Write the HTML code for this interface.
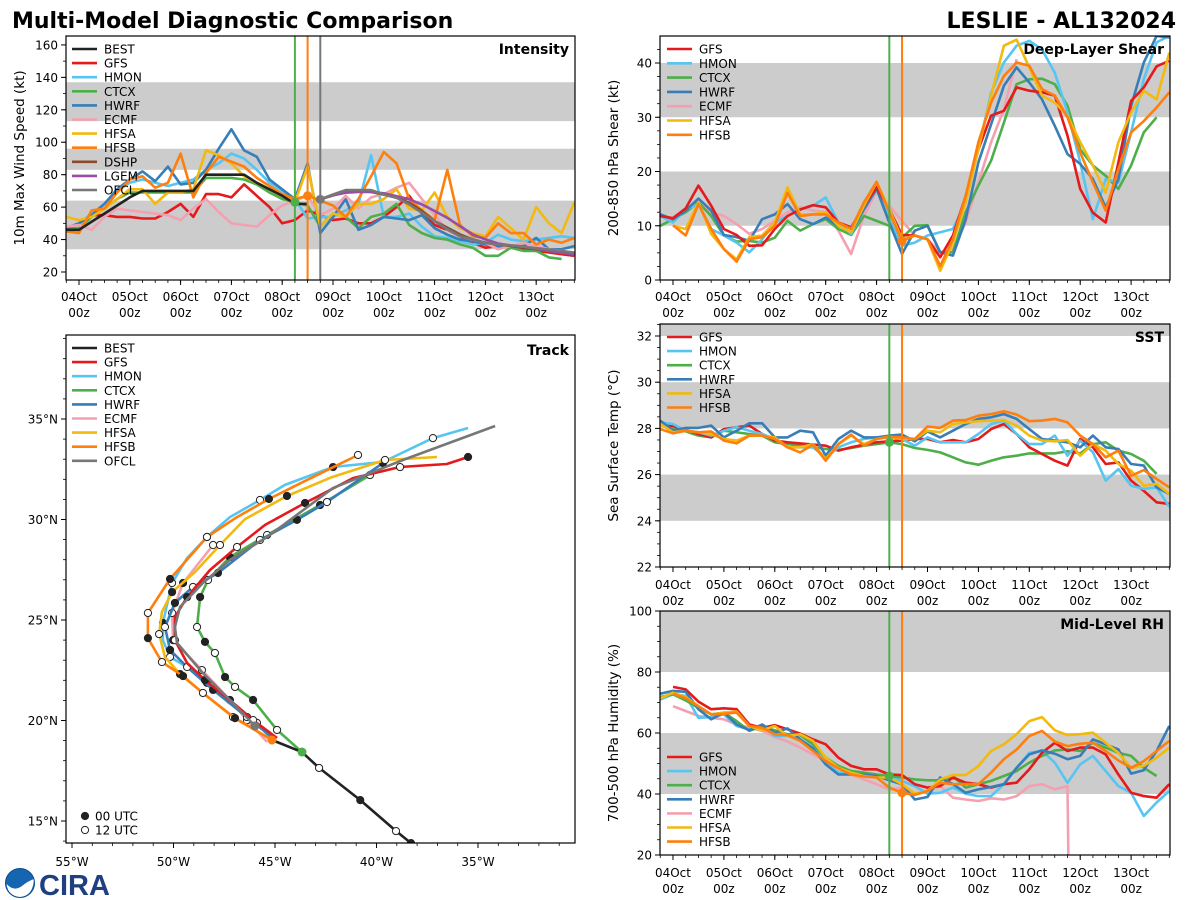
<!DOCTYPE html>
<html><head><meta charset="utf-8">
<style>
html,body{margin:0;padding:0;background:#fff;width:1200px;height:900px;overflow:hidden;}
svg{display:block;font-family:"DejaVu Sans","Liberation Sans",sans-serif;}
</style></head>
<body>
<svg id="chart" xmlns="http://www.w3.org/2000/svg" width="1200" height="900" viewBox="0 0 1200 900">
<rect x="0" y="0" width="1200" height="900" fill="#fff"/>
<text x="12" y="28" font-size="22" font-weight="bold" fill="#000">Multi-Model Diagnostic Comparison</text>
<text x="1176" y="28" font-size="22" font-weight="bold" fill="#000" text-anchor="end">LESLIE - AL132024</text>
<g>
<circle cx="20" cy="883" r="14.5" fill="#1565b0"/>
<path d="M6.5,884 Q14,892 22,886 Q28,881 34,879 Q33,896 20,897 Q8,896 6.5,884 Z" fill="#fff"/>
<circle cx="20" cy="883" r="14.5" fill="none" stroke="#0d4f91" stroke-width="1"/>
</g>
<text x="39" y="895" font-size="29" font-weight="bold" font-family="Liberation Sans, sans-serif" fill="#1f3f80">CIRA</text>
</svg>
<script>
const svg = document.getElementById('chart');
const NS = 'http://www.w3.org/2000/svg';

// ---------- shared categories ----------
const times = [-0.25,0,0.25,0.5,0.75,1,1.25,1.5,1.75,2,2.25,2.5,2.75,3,3.25,3.5,3.75,4,4.25,4.5,4.75,5,5.25,5.5,5.75,6,6.25,6.5,6.75,7,7.25,7.5,7.75,8,8.25,8.5,8.75,9,9.25,9.5,9.75];
const dayLabels = ['04Oct','05Oct','06Oct','07Oct','08Oct','09Oct','10Oct','11Oct','12Oct','13Oct'];
const markerTimes = [4.25, 4.5, 4.75];

// ---------- intensity (kt) ----------
const intBEST = [46,46,51,56,61,66,70,70,70,70,70,80,80,80,80,75,71,67,62,62,null,null,null,null,null,null,null,null,null,null,null,null,null,null,null,null,null,null,null,null,null];
const intGFS  = [47,50,55,55,54,54,53,53,57,62,54,68,68,66,74,67,60,50,52,58,55,52,53,50,50,54,60,67,56,49,46,42,38,35,36,35,34,33,32,31,30];
const intHMON = [47,50,56,62,70,75,77,75,73,75,77,83,87,93,90,83,75,70,65,53,54,54,58,62,92,54,54,56,48,42,41,39,37,38,43,40,39,40,41,42,41];
const intCTCX = [47,47,54,59,65,69,69,69,69,69,69,78,78,78,77,74,69,65,63,61,48,56,54,47,54,56,62,49,44,41,40,37,35,30,30,35,33,33,29,28,null];
const intHWRF = [47,50,55,62,71,77,82,76,85,74,75,83,96,108,95,91,77,71,65,87,44,54,65,46,49,54,53,52,55,47,43,40,39,37,36,36,36,41,34,34,36];
const intECMF = [48,49,46,54,59,58,57,56,55,52,59,65,57,50,49,48,55,61,64,67,55,59,67,59,66,68,72,75,65,55,46,42,40,38,34,36,38,36,34,33,32];
const intHFSA = [54,52,54,59,65,71,71,62,69,69,71,95,92,87,79,75,71,67,63,85,48,56,54,62,62,65,71,59,58,69,54,47,44,42,54,47,40,60,50,44,63];
const intHFSB = [45,44,58,59,69,77,79,72,75,93,66,81,91,88,85,78,73,68,65,67,64,61,54,65,79,94,87,65,58,52,83,49,42,41,50,44,44,37,40,38,41];
const intDSHP = [null,null,null,null,null,null,null,null,null,null,null,null,null,null,null,null,null,null,null,null,64.8,67.2,69.9,69.9,69.3,67.8,65.8,62.7,57.6,51.4,47.3,43.2,40.1,38,37,36,35,34,33,32,31];
const intLGEM = [null,null,null,null,null,null,null,null,null,null,null,null,null,null,null,null,null,null,null,null,64.8,67.2,68.9,69.3,69.3,68.5,66.8,64.8,61.7,57.6,53.4,48.3,43.2,40.1,37.6,36.4,35.6,34.3,32.9,31.9,30.8];
const intOFCL = [null,null,null,null,null,null,null,null,null,null,null,null,null,null,null,null,null,null,null,null,64.8,67.8,70.5,70.5,70.5,67.8,65.8,61.7,56.5,51.4,46.3,42.1,40.1,38,37,36.4,35.6,34.7,33.9,32.9,31.9];
const intTicks = [20,40,60,80,100,120,140,160];

// ---------- shear (kt) ----------
const shrGFS  = [11.8,11.4,13.2,17.4,13.7,9.4,8.3,6.3,6.4,9.4,11.8,13,13.8,13.4,10.6,9.7,13.7,17.1,13,8.3,8.2,7.5,4.2,8.2,15.5,24.1,30.3,31.2,35.5,34.9,34.6,34,26.6,16.8,12.4,10.6,21.7,33,35.5,39.4,40.4];
const shrHMON = [11.8,10.6,13,14,9.4,8.2,6.9,5.1,7.5,10.6,11.8,13,13.7,15.2,10.6,8.5,13,16.8,11.2,6.3,6.9,8.2,8.8,9.4,14.3,24.1,34.5,40.1,43.2,44.1,42.5,38.2,30.9,21.7,11.2,18.6,18,27.2,37,43.8,45];
const shrCTCX = [10,11.2,12.5,14.3,11.8,8.2,7.1,7.2,6.9,7.8,10.9,9.1,10.3,11.2,9.4,8.3,11.8,10.9,10,7.8,10,10.1,5.1,5.1,12.5,17.4,22,29,36.1,37,37.1,36.1,32.1,24.1,21.1,19.2,16.8,21.1,27.2,30,null];
const shrHWRF = [12.1,11.2,12.8,15,12.8,8.3,7.9,7.2,11.2,12.1,14,11.2,10.3,11.5,10,8.8,13,16.8,10.6,4.8,9.1,10,5.1,4.5,11.2,21.7,28.7,35.8,39.2,36.4,33.3,28.4,23.2,21.4,18.6,13.4,18.6,32.1,40.1,45,44.7];
const shrECMF = [null,11.5,13,14,12.5,11.8,10.3,8.5,9.4,10.9,12.5,13.4,12.8,12.5,9.1,4.8,11.8,16.4,13.7,10.9,8.2,7.5,5.1,5.7,10.6,18,25.4,31.5,40.7,null,null,null,null,null,null,null,null,null,null,null,null];
const shrHFSA = [null,10,9.4,14.3,8.5,5.7,3.8,7.9,8.2,10.6,17.1,12.1,12.1,12.5,10,8.8,13.7,18,13,7.5,8.2,7.5,1.7,6.9,14.3,24.1,34,43.2,44.3,39.2,34,32.7,30.3,25.4,21.1,16.1,25.4,30.9,34.9,33.3,41.9];
const shrHFSB = [null,10.1,8.2,14,9.4,5.7,3.4,7.5,7.9,10,16.1,11.8,12.1,12.1,10.6,9.4,14.3,18.1,12.5,7.2,8.2,7.5,2.6,7.5,15.5,25.4,32.7,37.6,40.1,39.5,35.2,34,30,23.5,18,12.8,20.4,27.2,29.3,31.8,34.6];
const shrTicks = [0,10,20,30,40];

// ---------- SST (C) ----------
const sstGFS  = [28.19,28.1,27.93,27.76,27.61,27.97,28.05,28.12,27.76,27.47,27.4,27.35,27.3,27.25,27.04,27.18,27.3,27.4,27.44,27.47,27.54,27.54,27.4,27.5,27.4,27.54,27.97,28.19,27.76,27.18,26.89,26.6,26.39,27.54,27.18,26.46,26.53,25.74,25.3,24.8,24.73];
const sstHMON = [28.26,28.19,27.9,27.83,27.69,27.9,28.05,27.9,27.76,27.54,27.18,27.18,27.18,26.75,27.18,27.4,27.54,27.61,27.61,27.54,27.25,27.61,27.4,27.4,27.4,27.76,28.19,28.34,27.76,27.32,27.32,27.69,26.82,27.47,26.97,25.74,26.24,25.52,25.38,25.45,24.6];
const sstCTCX = [28.19,27.97,27.87,27.69,27.61,27.9,27.83,27.76,27.69,27.4,27.32,27.25,27.18,27.11,27.07,27.15,27.25,27.32,27.4,27.32,27.15,27.07,26.96,26.75,26.53,26.43,26.6,26.75,26.82,26.92,26.92,26.92,27.01,26.92,27.32,27.4,27.04,26.89,26.6,26.03,null];
const sstHWRF = [28.34,27.9,28.02,28.02,28.12,27.61,27.9,28.22,28.22,27.61,27.61,27.9,27.83,26.82,27.54,27.9,27.61,27.61,27.69,27.73,27.44,27.87,27.61,27.9,28.19,28.41,28.48,28.62,28.41,27.97,27.54,27.47,27.4,27.18,27.69,27.18,27.11,26.46,26.39,25.45,25.16];
const sstHFSA = [28.19,27.83,27.9,27.83,27.76,27.54,27.47,27.69,27.69,27.61,27.18,27.18,27.32,26.68,27.32,27.69,27.32,27.54,27.64,27.54,27.54,27.9,27.83,28.19,28.26,28.31,28.34,28.36,28.12,27.69,27.47,27.44,27.5,26.82,27.32,27.04,26.46,26.17,25.52,25.6,25.16];
const sstHFSB = [27.97,27.79,27.9,27.83,27.87,27.47,27.35,27.69,27.69,27.54,27.18,26.96,27.3,26.6,27.32,27.73,27.25,27.54,27.64,27.61,27.54,28.08,28.02,28.34,28.36,28.55,28.62,28.74,28.6,28.31,28.34,28.41,28.26,27.69,27.32,26.75,27.04,25.95,26.2,25.81,25.45];
const sstTicks = [22,24,26,28,30,32];

// ---------- mid-level RH (%) ----------
const rhGFS  = [null,75.1,74.3,70.3,67.8,68.1,67.8,62.8,61.7,62.6,61.2,59.8,57.9,56.3,51.9,49.2,48.1,48.1,46.4,46.2,43.2,42.1,42.6,45.4,43.7,43.2,42.1,43.2,43.7,48.1,53.5,56.8,54.1,55.2,55.2,53,46.4,40.4,39.3,38.8,43.2];
const rhHMON = [71,72.7,72.2,65,65.2,66.1,62.3,61.2,62.3,59,59,57.9,55.2,50.3,47,46.7,46.2,45.9,45.9,44.3,42.6,40.1,40.4,42.1,40.1,39.3,39.3,43.2,48.6,53.5,54.1,50.3,43.7,49.7,52.5,47.5,42.6,40.4,32.8,37.2,41];
const rhCTCX = [71.8,72.7,70.7,68.3,66.1,66.7,63.9,60.7,62.3,60.9,59.6,59.3,56.3,51.9,49.2,47.5,47,46.4,45.9,45.4,44.8,44.5,44.5,45.9,42.1,43.2,44.3,45.9,47.5,50.3,52.5,54.3,54.6,54.1,56.8,55.2,53.5,52.5,48.6,45.9,null];
const rhHWRF = [72.9,73.8,73.5,67.8,64.5,66.7,62.8,60.9,62.8,60.1,61.5,57.9,55,49.7,46.4,46.4,46.4,45.9,44.5,43.2,38.2,39,45.4,43.2,40.4,41.5,42.3,43.2,48.6,53,54.3,53.2,51.4,52.5,57.9,56.3,54.6,46.7,47.8,54.1,62.3];
const rhECMF = [null,68.8,67.2,65.6,65,64.5,62.8,61.7,60.7,58.7,57.2,55.2,53,50.8,48.6,46.4,44.8,43.2,41.5,42.1,39.9,41,42.6,38.8,38.2,37.7,38.6,38.2,39.3,42.6,43.2,41.5,42.6,-300,null,null,null,null,null,null,null];
const rhHFSA = [71.4,73.2,71.8,68.8,66.1,66.7,67,62.3,60.9,62.3,59,59.6,57.4,51.9,48.6,47,45.9,45.4,45.4,43.2,40.1,41,44.8,46.2,46.2,49.2,54.1,56.3,59.6,63.9,65.2,60.9,59.3,59.6,60.1,56.8,53.5,48.6,49.2,51.9,55.2];
const rhHFSB = [null,72.9,71.4,68.8,66.1,66.3,66.7,62.3,61.7,59.6,59.3,57.4,54.1,50.8,48.4,46.4,45.7,45.4,42.1,40.4,39.7,41,43.7,43.2,43.2,43.2,47,51.4,54.6,59,60.7,57.2,55.7,56.5,56.8,54.1,51,48.6,50.8,54.1,57.4];
const rhTicks = [20,40,60,80,100];

// ---------- track (deg) ----------
const trkBESTlon = [-37.6,-38.3,-39.04,-40.8,-42.83,-43.67,-45.15];
const trkBESTlat = [13.3,13.9,14.5,16.04,17.64,18.43,19.03];
const trkGFSlon  = [-44.9,-46.08,-47.07,-48.45,-49.33,-49.93,-49.93,-49.33,-48.2,-46.87,-45.49,-43.52,-41.16,-38.84,-36.53,-35.49];
const trkGFSlat  = [19.13,20.02,20.87,22.01,22.86,24.0,25.15,26.14,27.49,28.63,29.73,30.82,32.06,32.61,32.76,33.11];
const trkHMONlon = [-45.15,-45.89,-47.22,-48.35,-49.33,-50.17,-50.52,-50.52,-50.32,-50.07,-49.33,-48.35,-47.22,-45.74,-44.51,-42.14,-39.68,-37.22,-35.49];
const trkHMONlat = [19.03,19.88,21.02,21.87,22.66,23.16,24.0,24.85,25.75,26.84,28.08,29.13,30.12,30.97,31.72,32.61,32.86,34.05,34.55];
const trkCTCXlon = [-43.67,-44.9,-46.08,-46.97,-47.46,-47.96,-48.45,-48.84,-48.69,-48.3,-47.22,-45.39,-42.78,-40.32];
const trkCTCXlat = [18.43,19.53,21.02,21.67,22.16,23.36,23.91,24.65,26.14,26.99,28.13,29.23,30.72,32.21];
const trkHWRFlon = [-45.1,-46.38,-48.05,-49.33,-50.17,-50.42,-49.93,-49.04,-47.81,-45.74,-43.92,-42.44,-39.68];
const trkHWRFlat = [19.13,20.17,21.52,22.66,23.51,24.65,25.85,26.64,27.34,28.98,29.98,30.87,32.81];
const trkECMFlon = [-45.39,-46.38,-47.22,-48.6,-50.02,-50.07,-49.53,-48.05];
const trkECMFlat = [18.93,20.02,21.02,22.51,24.0,25.35,26.84,28.73];
const trkHFSAlon = [-45.15,-47.07,-48.55,-49.68,-50.42,-50.71,-50.57,-50.07,-48.94,-47.71,-46.48,-44.41,-42.19,-39.58,-37.02];
const trkHFSAlat = [19.03,20.17,21.37,22.31,23.16,24.3,25.4,26.39,27.39,28.73,30.02,31.17,32.11,32.96,33.11];
const trkHFSBlon = [-45.15,-46.97,-48.55,-49.53,-50.57,-51.26,-51.26,-50.17,-48.35,-46.87,-45.3,-43.42,-40.91];
const trkHFSBlat = [19.03,20.12,21.37,22.21,22.91,24.1,25.35,27.04,29.13,30.12,31.02,31.97,33.21];
const trkOFCLlon = [-45.99,-47.22,-48.55,-49.83,-49.93,-49.68,-48.55,-47.22,-45.39,-42.14,-38.7,-34.16];
const trkOFCLlat = [19.73,21.02,22.36,23.86,24.65,25.65,26.84,27.99,29.13,31.57,32.96,34.65];
const lonTicks = [-55,-50,-45,-40,-35];
const latTicks = [15,20,25,30,35];

const C = {BEST:'#222222',GFS:'#e41a1c',HMON:'#56c5f2',CTCX:'#4daf4a',HWRF:'#377eb8',ECMF:'#f4a0b0',HFSA:'#f2b90f',HFSB:'#ff7f0e',DSHP:'#8c4a2a',LGEM:'#984ea3',OFCL:'#777777'};

function el(tag, attrs, parent){
  const e = document.createElementNS(NS, tag);
  for (const k in attrs) e.setAttribute(k, attrs[k]);
  (parent || svg).appendChild(e);
  return e;
}
function txt(str, attrs, parent){ const t = el('text', attrs, parent); t.textContent = str; return t; }

let clipId = 0;
function makePanel(p){
  const g = el('g', {});
  
  
  const X = t => p.x0 + (t - p.tmin) / (p.tmax - p.tmin) * (p.x1 - p.x0);
  const Y = v => p.y1 - (v - p.vmin) / (p.vmax - p.vmin) * (p.y1 - p.y0);
  const id = 'clip' + (clipId++);
  const cp = el('clipPath', {id: id}, g);
  el('rect', {x: p.x0, y: p.y0, width: p.x1 - p.x0, height: p.y1 - p.y0}, cp);
  const inner = el('g', {'clip-path': 'url(#' + id + ')'}, g);
  return {g, inner, X, Y, p};
}

function bands(P, list){
  list.forEach(b => {
    const r = el('rect', {x: P.p.x0, width: P.p.x1 - P.p.x0, y: P.Y(b[1]), height: P.Y(b[0]) - P.Y(b[1]), fill: '#cccccc'}, P.inner);
    
    
  });
}

function series(P, vals, color, name, xs){
  let d = '', pen = false;
  vals.forEach((v, i) => {
    if (v === null) { pen = false; return; }
    const x = P.X(xs ? xs[i] : times[i]), y = P.Y(v);
    d += (pen ? 'L' : 'M') + x.toFixed(1) + ',' + y.toFixed(1);
    pen = true;
  });
  const path = el('path', {d: d, fill: 'none', stroke: color, 'stroke-width': 2.6, 'stroke-linejoin': 'round'}, P.inner);
  
  
  return path;
}

function vline(P, t, color){
  const l = el('line', {x1: P.X(t), x2: P.X(t), y1: P.p.y0, y2: P.p.y1, stroke: color, 'stroke-width': 2}, P.inner);
  
  
}

function dot(P, t, vals, color){
  const i = times.indexOf(t);
  const v = vals[i];
  if (v === null || v === undefined) return;
  const c = el('circle', {cx: P.X(t), cy: P.Y(v), r: 4.5, fill: color}, P.inner);
  
  
}

function frame(P, yTicks, minorStep, ylabel, title, labelRowY){
  const p = P.p, g = P.g;
  for (let d = 0; d <= 9; d++) {
    const x = P.X(d);
    el('line', {x1: x, x2: x, y1: p.y1, y2: p.y1 + 5, stroke: '#000', 'stroke-width': 1}, g);
    const a = txt(dayLabels[d], {x: x, y: labelRowY, 'font-size': 12, 'text-anchor': 'middle'}, g);
    
    
    const b = txt('00z', {x: x, y: labelRowY + 16, 'font-size': 12, 'text-anchor': 'middle'}, g);
    
    
  }
  for (let t = -0.25; t <= 9.76; t += 0.25) {
    const x = P.X(t);
    el('line', {x1: x, x2: x, y1: p.y1, y2: p.y1 + 3, stroke: '#000', 'stroke-width': 0.8}, g);
  }
  for (let v = Math.ceil(p.vmin / minorStep) * minorStep; v <= p.vmax; v += minorStep) {
    el('line', {x1: p.x0 - 3, x2: p.x0, y1: P.Y(v), y2: P.Y(v), stroke: '#000', 'stroke-width': 0.8}, g);
  }
  yTicks.forEach(v => {
    el('line', {x1: p.x0 - 5, x2: p.x0, y1: P.Y(v), y2: P.Y(v), stroke: '#000', 'stroke-width': 1}, g);
    const t = txt(String(v), {x: p.x0 - 8, y: P.Y(v) + 4.5, 'font-size': 12, 'text-anchor': 'end'}, g);
    
    
  });
  el('rect', {x: p.x0, y: p.y0, width: p.x1 - p.x0, height: p.y1 - p.y0, fill: 'none', stroke: '#000', 'stroke-width': 1.2}, g);
  const cy = (p.y0 + p.y1) / 2, lx = p.ylabelX;
  const yl = txt(ylabel, {x: lx, y: cy, 'font-size': 13.5, 'text-anchor': 'middle', transform: 'rotate(-90 ' + lx + ' ' + cy + ')'}, g);
  
  
  const tt = txt(title, {x: p.x1 - 6, y: p.y0 + 18, 'font-size': 14, 'font-weight': 'bold', 'text-anchor': 'end'}, g);
  
  
}

function legend(P, names, x, y, step){
  names.forEach((n, i) => {
    const yy = y + i * step;
    const l = el('line', {x1: x, x2: x + 25, y1: yy, y2: yy, stroke: C[n], 'stroke-width': 2.6}, P.g);
    
    
    const t = txt(n, {x: x + 32, y: yy + 4.5, 'font-size': 12}, P.g);
    
    
  });
}

// ===== Intensity panel =====
const PI = makePanel({name: 'intensity-panel', x0: 66, x1: 575, y0: 36, y1: 280, tmin: -0.256, tmax: 9.764, vmin: 15.07, vmax: 165.5, ylabelX: 24});
bands(PI, [[34, 64], [83, 96], [113, 137]]);
series(PI, intGFS, C.GFS, 'intensity-gfs');
series(PI, intHMON, C.HMON, 'intensity-hmon');
series(PI, intCTCX, C.CTCX, 'intensity-ctcx');
series(PI, intHWRF, C.HWRF, 'intensity-hwrf');
series(PI, intECMF, C.ECMF, 'intensity-ecmf');
series(PI, intHFSA, C.HFSA, 'intensity-hfsa');
series(PI, intHFSB, C.HFSB, 'intensity-hfsb');
series(PI, intBEST, C.BEST, 'intensity-best');
series(PI, intDSHP, C.DSHP, 'intensity-dshp');
series(PI, intLGEM, C.LGEM, 'intensity-lgem');
series(PI, intOFCL, C.OFCL, 'intensity-ofcl');
vline(PI, markerTimes[0], C.CTCX);
vline(PI, markerTimes[1], C.HFSB);
vline(PI, markerTimes[2], C.OFCL);
dot(PI, markerTimes[0], intCTCX, C.CTCX);
dot(PI, markerTimes[1], intHFSB, C.HFSB);
dot(PI, markerTimes[2], intOFCL, C.OFCL);
frame(PI, intTicks, 10, '10m Max Wind Speed (kt)', 'Intensity', 301);
legend(PI, ['BEST','GFS','HMON','CTCX','HWRF','ECMF','HFSA','HFSB','DSHP','LGEM','OFCL'], 72, 49, 14.1);

// ===== Shear panel =====
const PS = makePanel({name: 'shear-panel', x0: 660, x1: 1170, y0: 36, y1: 280, tmin: -0.255, tmax: 9.764, vmin: 0, vmax: 44.98, ylabelX: 618});
bands(PS, [[10, 20], [30, 40]]);
series(PS, shrECMF, C.ECMF, 'shear-ecmf');
series(PS, shrCTCX, C.CTCX, 'shear-ctcx');
series(PS, shrHMON, C.HMON, 'shear-hmon');
series(PS, shrHWRF, C.HWRF, 'shear-hwrf');
series(PS, shrGFS, C.GFS, 'shear-gfs');
series(PS, shrHFSA, C.HFSA, 'shear-hfsa');
series(PS, shrHFSB, C.HFSB, 'shear-hfsb');
vline(PS, markerTimes[0], C.CTCX);
vline(PS, markerTimes[1], C.HFSB);
dot(PS, markerTimes[1], shrHFSB, C.HFSB);
frame(PS, shrTicks, 2.5, '200-850 hPa Shear (kt)', 'Deep-Layer Shear', 301);
legend(PS, ['GFS','HMON','CTCX','HWRF','ECMF','HFSA','HFSB'], 667, 49, 14.3);

// ===== SST panel =====
const PT = makePanel({name: 'sst-panel', x0: 660, x1: 1170, y0: 324, y1: 567, tmin: -0.255, tmax: 9.764, vmin: 22, vmax: 32.52, ylabelX: 618});
bands(PT, [[24, 26], [28, 30], [32, 34]]);
series(PT, sstCTCX, C.CTCX, 'sst-ctcx');
series(PT, sstGFS, C.GFS, 'sst-gfs');
series(PT, sstHMON, C.HMON, 'sst-hmon');
series(PT, sstHWRF, C.HWRF, 'sst-hwrf');
series(PT, sstHFSA, C.HFSA, 'sst-hfsa');
series(PT, sstHFSB, C.HFSB, 'sst-hfsb');
vline(PT, markerTimes[0], C.CTCX);
vline(PT, markerTimes[1], C.HFSB);
dot(PT, markerTimes[0], sstCTCX, C.CTCX);
frame(PT, sstTicks, 0.5, 'Sea Surface Temp (°C)', 'SST', 589);
legend(PT, ['GFS','HMON','CTCX','HWRF','HFSA','HFSB'], 667, 337, 14.1);

// ===== RH panel =====
const PR = makePanel({name: 'rh-panel', x0: 660, x1: 1170, y0: 611, y1: 855, tmin: -0.255, tmax: 9.764, vmin: 20, vmax: 100, ylabelX: 618});
bands(PR, [[40, 60], [80, 100]]);
series(PR, rhECMF, C.ECMF, 'rh-ecmf');
series(PR, rhHMON, C.HMON, 'rh-hmon');
series(PR, rhCTCX, C.CTCX, 'rh-ctcx');
series(PR, rhGFS, C.GFS, 'rh-gfs');
series(PR, rhHWRF, C.HWRF, 'rh-hwrf');
series(PR, rhHFSA, C.HFSA, 'rh-hfsa');
series(PR, rhHFSB, C.HFSB, 'rh-hfsb');
vline(PR, markerTimes[0], C.CTCX);
vline(PR, markerTimes[1], C.HFSB);
dot(PR, markerTimes[0], rhCTCX, C.CTCX);
dot(PR, markerTimes[1], rhHFSB, C.HFSB);
frame(PR, rhTicks, 5, '700-500 hPa Humidity (%)', 'Mid-Level RH', 877);
legend(PR, ['GFS','HMON','CTCX','HWRF','ECMF','HFSA','HFSB'], 667, 757, 14.1);

// ===== Track panel =====
const TK = {x0: 66, x1: 575, y0: 335, y1: 843};
const LX = lon => 72 + (lon + 55) * 20.3;
const LY = lat => 821 - (lat - 15) * 20.1;
const tg = el('g', {});


const tcp = el('clipPath', {id: 'trackclip'}, tg);
el('rect', {x: TK.x0, y: TK.y0, width: TK.x1 - TK.x0, height: TK.y1 - TK.y0}, tcp);
const ti = el('g', {'clip-path': 'url(#trackclip)'}, tg);

function track(lons, lats, color, name, mk){
  let d = '';
  lons.forEach((lo, i) => { d += (i ? 'L' : 'M') + LX(lo).toFixed(1) + ',' + LY(lats[i]).toFixed(1); });
  const p = el('path', {d: d, fill: 'none', stroke: color, 'stroke-width': 2.6, 'stroke-linejoin': 'round'}, ti);
  
  
  if (!mk) return;
  lons.forEach((lo, i) => {
    const m = mk[i];
    if (m !== 'f' && m !== 'o') return;
    const c = el('circle', {cx: LX(lo), cy: LY(lats[i]), r: 3.6, fill: m === 'f' ? '#222' : '#fff', stroke: '#222', 'stroke-width': 1}, ti);
    
    
  });
}
track(trkECMFlon, trkECMFlat, C.ECMF, 'track-ecmf', '-ofofofo');
track(trkCTCXlon, trkCTCXlat, C.CTCX, 'track-ctcx', '-ofofofofofofo');
track(trkHMONlon, trkHMONlat, C.HMON, 'track-hmon', '-o-f-o-f-o-f-o-f-o');
track(trkHWRFlon, trkHWRFlat, C.HWRF, 'track-hwrf', '-ofofofofofof');
track(trkGFSlon, trkGFSlat, C.GFS, 'track-gfs', '-o-f-o-f-o-f-o-f');
track(trkHFSAlon, trkHFSAlat, C.HFSA, 'track-hfsa', '-o-f-o-f-o-f-o-o');
track(trkHFSBlon, trkHFSBlat, C.HFSB, 'track-hfsb', '-fofofofo-f-o');
track(trkOFCLlon, trkOFCLlat, C.OFCL, 'track-ofcl', '');
track(trkBESTlon, trkBESTlat, C.BEST, 'track-best', '-fofo--');
[[trkHFSBlon[0], trkHFSBlat[0], C.HFSB], [trkCTCXlon[0], trkCTCXlat[0], C.CTCX], [trkOFCLlon[0], trkOFCLlat[0], C.OFCL]].forEach(s => {
  const c = el('circle', {cx: LX(s[0]), cy: LY(s[1]), r: 4.5, fill: s[2]}, ti);
  
  
});
for (let lo = -55; lo <= -31; lo++) {
  const x = LX(lo);
  if (x < TK.x0 || x > TK.x1) continue;
  el('line', {x1: x, x2: x, y1: TK.y1, y2: TK.y1 + (lo % 5 === 0 ? 5 : 3), stroke: '#000', 'stroke-width': lo % 5 === 0 ? 1 : 0.8}, tg);
}
for (let la = 14; la <= 39; la++) {
  const y = LY(la);
  if (y < TK.y0 || y > TK.y1) continue;
  el('line', {x1: TK.x0 - (la % 5 === 0 ? 5 : 3), x2: TK.x0, y1: y, y2: y, stroke: '#000', 'stroke-width': la % 5 === 0 ? 1 : 0.8}, tg);
}
lonTicks.forEach(lo => {
  const t = txt(Math.abs(lo) + '°W', {x: LX(lo), y: 866, 'font-size': 12, 'text-anchor': 'middle'}, tg);
  
  
});
latTicks.forEach(la => {
  const t = txt(la + '°N', {x: 58, y: LY(la) + 4.5, 'font-size': 12, 'text-anchor': 'end'}, tg);
  
  
});
el('rect', {x: TK.x0, y: TK.y0, width: TK.x1 - TK.x0, height: TK.y1 - TK.y0, fill: 'none', stroke: '#000', 'stroke-width': 1.2}, tg);
const ttl = txt('Track', {x: TK.x1 - 6, y: TK.y0 + 20, 'font-size': 14, 'font-weight': 'bold', 'text-anchor': 'end'}, tg);


legend({g: tg}, ['BEST','GFS','HMON','CTCX','HWRF','ECMF','HFSA','HFSB','OFCL'], 72, 348, 14.1);
[['00 UTC', '#222'], ['12 UTC', '#fff']].forEach((m, i) => {
  const y = 816 + i * 14;
  const c = el('circle', {cx: 85, cy: y, r: 3.6, fill: m[1], stroke: '#222', 'stroke-width': 1}, tg);
  
  
  const t = txt(m[0], {x: 95, y: y + 4.5, 'font-size': 12}, tg);
  
  
});
</script>
</body></html>
